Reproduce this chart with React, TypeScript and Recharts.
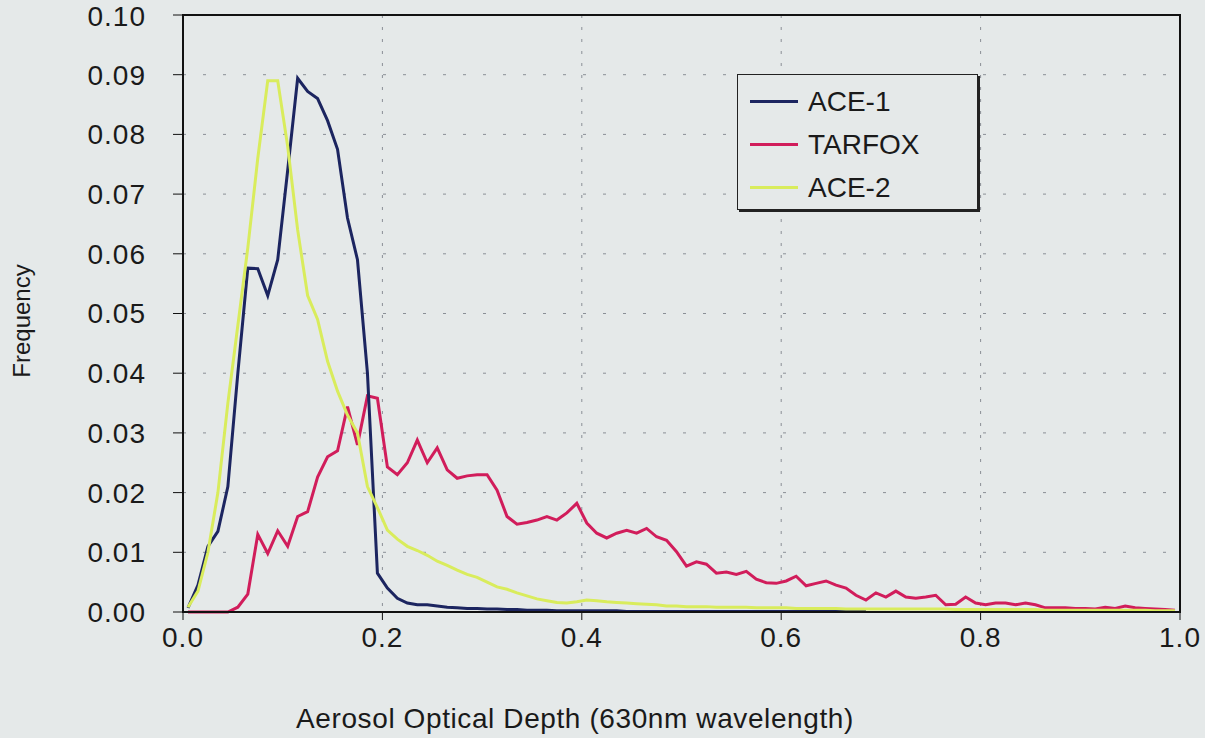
import React from 'react';
import {
  LineChart,
  Line,
  XAxis,
  YAxis,
  CartesianGrid,
  ReferenceArea,
  Label,
} from 'recharts';

// bin centres (aerosol optical depth)
const depth = [
  0.005, 0.015, 0.025, 0.035, 0.045, 0.055, 0.065, 0.075, 0.085, 0.095,
  0.105, 0.115, 0.125, 0.135, 0.145, 0.155, 0.165, 0.175, 0.185, 0.195,
  0.205, 0.215, 0.225, 0.235, 0.245, 0.255, 0.265, 0.275, 0.285, 0.295,
  0.305, 0.315, 0.325, 0.335, 0.345, 0.355, 0.365, 0.375, 0.385, 0.395,
  0.405, 0.415, 0.425, 0.435, 0.445, 0.455, 0.465, 0.475, 0.485, 0.495,
  0.505, 0.515, 0.525, 0.535, 0.545, 0.555, 0.565, 0.575, 0.585, 0.595,
  0.605, 0.615, 0.625, 0.635, 0.645, 0.655, 0.665, 0.675, 0.685, 0.695,
  0.705, 0.715, 0.725, 0.735, 0.745, 0.755, 0.765, 0.775, 0.785, 0.795,
  0.805, 0.815, 0.825, 0.835, 0.845, 0.855, 0.865, 0.875, 0.885, 0.895,
  0.905, 0.915, 0.925, 0.935, 0.945, 0.955, 0.965, 0.975, 0.985, 0.995,
];

const ace1 = [
  0.0007, 0.0045, 0.011, 0.0135, 0.021, 0.040, 0.0576, 0.0575, 0.053, 0.059,
  0.074, 0.0894, 0.0872, 0.086, 0.0823, 0.0775, 0.066, 0.059, 0.040, 0.0065,
  0.004, 0.0023, 0.0015, 0.0012, 0.0012, 0.001, 0.0008, 0.0007, 0.0006, 0.0006,
  0.0005, 0.0005, 0.0004, 0.0004, 0.0003, 0.0003, 0.0003, 0.0002, 0.0002, 0.0002,
  0.0002, 0.0002, 0.0002, 0.0002, 0.0001, 0.0001, 0.0001, 0.0001, 0.0001, 0.0001,
  0.0001, 0.0001, 0.0001, 0.0001, 0.0001, 0.0001, 0.0001, 0.0001, 0.0001, 0.0001,
  0.0001, 0.0001, 0.0001, 0.0001, 0.0001, 0.0001, 0.0001, 0.0001, 0.0001,
];

const tarfox = [
  0, 0, 0, 0, 0, 0.0008, 0.003, 0.013, 0.0098, 0.0136,
  0.011, 0.016, 0.0168, 0.0226, 0.026, 0.027, 0.0344, 0.028, 0.0362, 0.0358,
  0.0243, 0.023, 0.025, 0.0288, 0.025, 0.0275, 0.0238, 0.0224, 0.0228, 0.023,
  0.023, 0.0204, 0.016, 0.0147, 0.015, 0.0154, 0.016, 0.0154, 0.0166, 0.0182,
  0.0149, 0.0132, 0.0124, 0.0132, 0.0137, 0.0132, 0.014, 0.0126, 0.012, 0.0101,
  0.0077, 0.0084, 0.008, 0.0065, 0.0067, 0.0063, 0.0068, 0.0055, 0.0049, 0.0048,
  0.0052, 0.006, 0.0044, 0.0048, 0.0052, 0.0045, 0.004, 0.0028, 0.002, 0.0032,
  0.0025, 0.0035, 0.0025, 0.0023, 0.0025, 0.0028, 0.0012, 0.0013, 0.0025, 0.0015,
  0.0012, 0.0015, 0.0015, 0.0012, 0.0015, 0.0012, 0.0007, 0.0007, 0.0007, 0.0006,
  0.0006, 0.0005, 0.0008, 0.0006, 0.001, 0.0007, 0.0006, 0.0005, 0.0004, 0.0003,
];

const ace2 = [
  0.0008, 0.0035, 0.010, 0.020, 0.035, 0.048, 0.061, 0.076, 0.089, 0.089,
  0.078, 0.064, 0.053, 0.049, 0.042, 0.037, 0.033, 0.030, 0.021, 0.0175,
  0.0137, 0.0122, 0.011, 0.0103, 0.0095, 0.0085, 0.0078, 0.007, 0.0063, 0.0058,
  0.005, 0.0042, 0.0038, 0.0032, 0.0027, 0.0022, 0.0019, 0.0016, 0.0015, 0.0017,
  0.002, 0.0019, 0.0017, 0.0016, 0.0015, 0.0014, 0.0013, 0.0012, 0.001, 0.001,
  0.0009, 0.0009, 0.0009, 0.0008, 0.0008, 0.0008, 0.0008, 0.0007, 0.0007, 0.0007,
  0.0007, 0.0006, 0.0006, 0.0006, 0.0006, 0.0006, 0.0005, 0.0005, 0.0005, 0.0005,
  0.0005, 0.0005, 0.0005, 0.0005, 0.0005, 0.0005, 0.0005, 0.0004, 0.0004, 0.0004,
  0.0004, 0.0004, 0.0004, 0.0004, 0.0004, 0.0004, 0.0003, 0.0003, 0.0003, 0.0003,
  0.0003, 0.0003, 0.0003, 0.0003, 0.0003, 0.0003, 0.0003, 0.0002, 0.0002, 0.0002,
];

const xTicks = [0, 0.2, 0.4, 0.6, 0.8, 1.0];
const yTicks = [0, 0.01, 0.02, 0.03, 0.04, 0.05, 0.06, 0.07, 0.08, 0.09, 0.1];

const series = [
  { key: 'ace1', name: 'ACE-1', color: '#1c2560' },
  { key: 'tarfox', name: 'TARFOX', color: '#d11d5b' },
  { key: 'ace2', name: 'ACE-2', color: '#d9ec5c' },
];

const data = depth.map((d, i) => ({
  depth: d,
  ace1: i < ace1.length ? ace1[i] : null,
  tarfox: tarfox[i],
  ace2: ace2[i],
}));

const FONT = '"Liberation Sans", Arial, sans-serif';
const BG = '#e5e9e9';
const TXT = '#1a1a1a';

// legend sits inside the plot, drawn as a plain box on top of the chart
const LegendBox = () => (
  <div
    style={{
      position: 'absolute',
      left: 737,
      top: 74,
      width: 241,
      height: 136,
      border: '1px solid #222',
      boxShadow: '2px 2px 0 #222',
      background: BG,
      fontFamily: FONT,
      fontSize: 28,
      color: TXT,
      boxSizing: 'border-box',
      paddingTop: 5,
    }}
  >
    {series.map((s) => (
      <div key={s.key} style={{ display: 'flex', alignItems: 'center', height: 43 }}>
        <div style={{ width: 48, height: 3, background: s.color, marginLeft: 12, marginRight: 10 }} />
        <span>{s.name}</span>
      </div>
    ))}
  </div>
);

export default function App() {
  return (
    <div style={{ position: 'absolute', left: 0, top: 0, width: 1205, height: 738, background: BG }}>
      <LineChart
        width={1205}
        height={738}
        data={data}
        margin={{ top: 15, right: 25, left: 0, bottom: 0 }}
        style={{ fontFamily: FONT }}
      >
        <CartesianGrid vertical={false} stroke="#8a8f96" strokeDasharray="3 17" />
        <CartesianGrid horizontal={false} stroke="#8a8f96" strokeDasharray="3 9" />
        <XAxis
          dataKey="depth"
          type="number"
          domain={[0, 1]}
          ticks={xTicks}
          tickFormatter={(v: number) => v.toFixed(1)}
          height={126}
          tickSize={8}
          tickMargin={7}
          axisLine={{ stroke: '#111', strokeWidth: 2 }}
          tickLine={{ stroke: '#111' }}
          tick={{ fill: TXT, fontSize: 28, letterSpacing: 1 }}
        >
          <Label
            content={() => (
              <text x={575} y={728} textAnchor="middle" fontSize={28} letterSpacing={0.6} fill={TXT} fontFamily={FONT}>
                Aerosol Optical Depth (630nm wavelength)
              </text>
            )}
          />
        </XAxis>
        <YAxis
          type="number"
          domain={[0, 0.1]}
          ticks={yTicks}
          tickFormatter={(v: number) => v.toFixed(2)}
          width={183}
          tickSize={10}
          tickMargin={27}
          axisLine={{ stroke: '#111', strokeWidth: 2 }}
          tickLine={{ stroke: '#111' }}
          tick={{ fill: TXT, fontSize: 28, letterSpacing: 1 }}
        >
          <Label
            content={() => (
              <text
                x={30}
                y={321}
                textAnchor="middle"
                fontSize={24}
                fill={TXT}
                fontFamily={FONT}
                transform="rotate(-90 30 321)"
              >
                Frequency
              </text>
            )}
          />
        </YAxis>
        <Line type="linear" dataKey="tarfox" name="TARFOX" stroke="#d11d5b" strokeWidth={3} dot={false} isAnimationActive={false} />
        <Line type="linear" dataKey="ace1" name="ACE-1" stroke="#1c2560" strokeWidth={3} dot={false} isAnimationActive={false} />
        <Line type="linear" dataKey="ace2" name="ACE-2" stroke="#d9ec5c" strokeWidth={3} dot={false} isAnimationActive={false} />
        <ReferenceArea x1={0} x2={1} y1={0} y2={0.1} fill="none" stroke="#111" strokeWidth={2} />
      </LineChart>
      <LegendBox />
    </div>
  );
}
